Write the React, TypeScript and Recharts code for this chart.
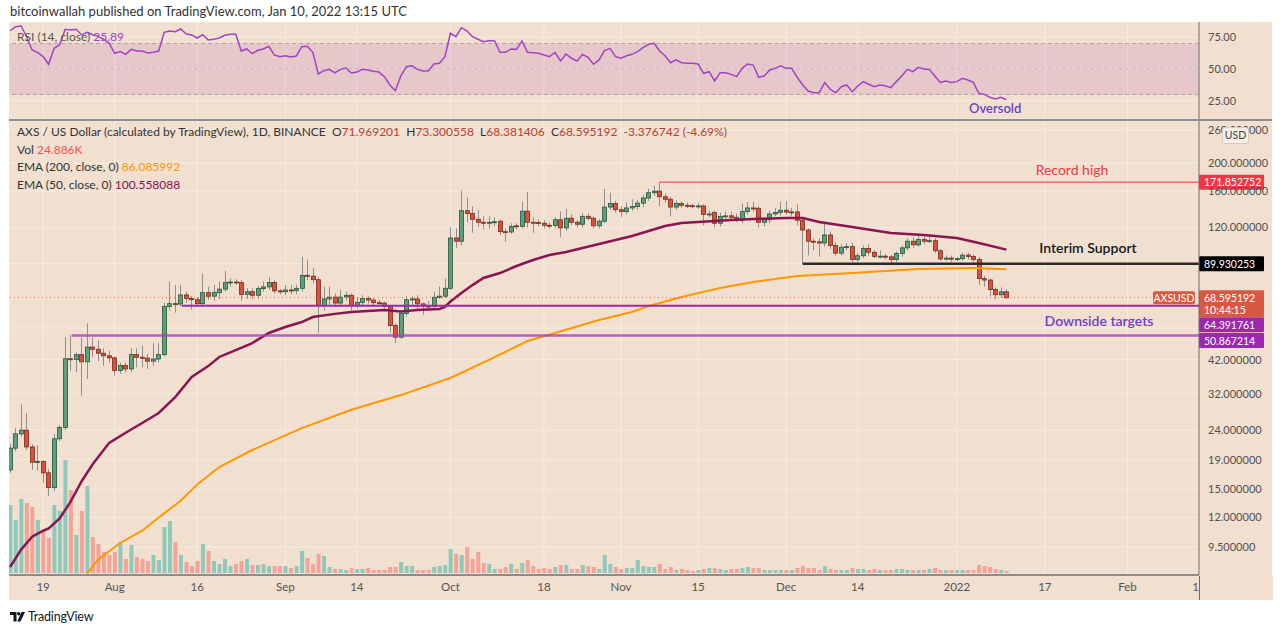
import React from "react";
import {
  ComposedChart,
  LineChart,
  Line,
  Bar,
  XAxis,
  YAxis,
  CartesianGrid,
  ReferenceLine,
  ReferenceArea,
} from "recharts";

// AXS / USD daily candles, 13 Jul 2021 .. 10 Jan 2022. Day numbers count from 19 Jul 2021.
const firstDay = -6;
const axisStart = -6.2;
const axisEnd = 210; // 14 Feb 2022

const opens = [
  17.5, 20.8, 23.3, 24.0, 21.0, 18.6, 18.7, 17.1, 15.2, 22.4,
  24.5, 42.3, 42.0, 43.7, 41.3, 46.4, 45.6, 44.2, 43.3, 42.6,
  38.5, 40.1, 39.0, 43.7, 42.8, 42.5, 41.5, 42.2, 43.7, 64.0,
  65.5, 65.3, 70.2, 68.2, 67.6, 65.5, 71.5, 69.5, 71.5, 73.5,
  77.5, 77.8, 77.4, 70.5, 72.0, 70.0, 73.8, 74.8, 77.5, 72.5,
  72.0, 73.0, 72.7, 74.0, 82.0, 81.5, 79.2, 64.5, 68.0, 69.0,
  65.8, 69.0, 70.0, 64.5, 66.2, 68.2, 67.4, 66.0, 65.8, 64.0,
  55.0, 50.2, 60.6, 67.6, 68.0, 65.4, 64.3, 64.1, 68.9, 69.5,
  74.0, 110.3, 107.5, 137.0, 134.0, 128.0, 125.0, 124.0, 125.0, 126.0,
  116.0, 115.7, 121.5, 121.0, 136.5, 125.0, 124.8, 124.0, 122.0, 121.8,
  127.5, 119.5, 129.0, 125.0, 123.0, 131.0, 129.0, 121.5, 126.0, 141.0,
  145.0, 138.0, 136.0, 140.0, 141.5, 145.5, 151.5, 158.0, 160.0, 153.0,
  150.0, 141.0, 145.0, 143.0, 142.5, 142.0, 142.3, 133.0, 135.0, 124.0,
  131.0, 131.5, 130.0, 127.0, 136.0, 140.0, 139.7, 125.0, 127.5, 133.5,
  135.0, 137.5, 135.5, 135.7, 127.0, 117.5, 107.5, 107.0, 106.0, 113.0,
  104.0, 97.8, 102.5, 103.0, 93.0, 95.8, 101.5, 98.5, 95.3, 95.5,
  95.0, 93.0, 97.5, 102.0, 107.5, 104.5, 109.0, 107.5, 108.0, 99.7,
  93.4, 94.0, 93.3, 93.6, 96.3, 95.3, 93.0, 79.9, 79.0, 73.3,
  70.3, 71.969201,
];

const highs = [
  21.5, 24.4, 29.5, 27.5, 21.5, 21.3, 18.9, 17.6, 23.3, 25.0,
  50.2, 51.0, 44.5, 50.0, 56.0, 50.0, 49.0, 46.0, 45.0, 43.0,
  41.0, 41.0, 46.0, 46.0, 47.0, 44.0, 48.0, 48.0, 66.0, 78.0,
  76.0, 76.0, 72.0, 69.5, 69.0, 83.0, 75.0, 76.0, 78.0, 85.0,
  80.0, 79.5, 79.0, 74.0, 74.0, 75.5, 78.0, 81.0, 79.0, 73.5,
  76.0, 76.0, 76.0, 95.0, 93.0, 87.0, 81.0, 75.0, 75.0, 71.0,
  73.0, 72.0, 71.0, 69.0, 70.0, 69.5, 68.5, 67.5, 66.5, 64.5,
  56.0, 62.0, 69.5, 69.5, 70.0, 66.0, 67.0, 72.0, 75.0, 80.0,
  120.0, 119.0, 161.0, 152.0, 142.0, 138.0, 131.0, 131.0, 130.0, 128.0,
  119.0, 124.0, 124.0, 147.0, 159.0, 130.0, 128.0, 127.0, 125.0, 130.0,
  136.0, 139.0, 133.0, 127.0, 134.0, 134.0, 131.0, 128.0, 163.0, 158.0,
  148.0, 142.0, 146.0, 150.0, 149.0, 155.0, 163.0, 167.0, 171.852752, 157.0,
  153.0, 149.0, 147.0, 146.0, 145.0, 146.0, 144.0, 137.0, 137.0, 135.0,
  136.0, 136.0, 134.0, 145.0, 147.0, 147.0, 142.0, 130.0, 137.0, 140.0,
  147.0, 148.0, 140.0, 144.0, 129.0, 119.0, 110.0, 110.0, 124.0, 116.0,
  107.0, 105.0, 106.0, 106.0, 98.0, 104.0, 105.0, 100.0, 100.0, 97.0,
  96.5, 99.0, 104.0, 110.0, 111.0, 112.0, 112.0, 111.5, 110.0, 101.0,
  95.8, 96.0, 95.0, 98.0, 98.0, 97.0, 95.0, 82.0, 80.0, 74.5,
  74.5, 73.300558,
];

const lows = [
  17.1, 20.3, 22.8, 20.5, 17.5, 17.4, 15.8, 14.2, 14.8, 22.0,
  24.0, 38.5, 38.0, 31.5, 36.0, 42.8, 41.5, 40.0, 41.0, 37.0,
  37.5, 38.0, 38.0, 39.5, 39.5, 39.0, 40.0, 41.0, 43.0, 62.0,
  61.0, 64.0, 66.0, 62.5, 64.0, 64.0, 67.5, 67.0, 68.0, 72.0,
  75.0, 76.0, 67.0, 68.0, 67.8, 68.0, 72.0, 73.0, 71.0, 70.5,
  70.0, 70.5, 70.5, 72.0, 79.0, 77.0, 52.0, 62.0, 65.0, 64.0,
  64.0, 67.0, 62.0, 63.0, 64.5, 65.5, 64.0, 64.5, 63.0, 52.0,
  47.9, 49.5, 59.0, 65.0, 63.0, 60.0, 62.0, 62.5, 68.0, 68.5,
  73.0, 102.0, 104.0, 125.0, 115.0, 120.0, 118.0, 119.0, 121.0, 113.0,
  107.0, 114.0, 118.0, 119.0, 120.0, 115.0, 121.0, 119.0, 119.0, 119.0,
  111.0, 117.0, 122.0, 120.0, 120.0, 127.0, 119.0, 119.0, 124.0, 138.0,
  135.0, 130.0, 133.0, 137.0, 138.0, 141.0, 148.0, 154.0, 142.0, 146.0,
  131.0, 138.0, 140.0, 140.0, 140.0, 139.0, 122.0, 130.0, 120.0, 121.0,
  128.0, 127.0, 125.0, 124.0, 133.0, 136.0, 119.9, 121.0, 124.0, 131.0,
  132.0, 133.0, 131.0, 122.0, 89.930253, 96.0, 100.0, 95.2, 103.0, 101.0,
  96.0, 96.0, 100.0, 91.0, 91.0, 94.0, 96.0, 94.0, 94.0, 93.0,
  90.5, 91.0, 95.0, 100.0, 102.0, 103.0, 105.0, 106.0, 98.0, 92.0,
  92.0, 91.0, 92.0, 92.0, 93.0, 91.0, 76.0, 75.0, 69.4, 67.8,
  68.5, 68.381406,
];

const closes = [
  20.8, 23.3, 24.0, 21.0, 18.6, 18.7, 17.1, 15.2, 22.4, 24.5,
  42.3, 42.0, 43.7, 41.3, 46.4, 45.6, 44.2, 43.3, 42.6, 38.5,
  40.1, 39.0, 43.7, 42.8, 42.5, 41.5, 42.2, 43.7, 64.0, 65.5,
  65.3, 70.2, 68.2, 67.6, 65.5, 71.5, 69.5, 71.5, 73.5, 77.5,
  77.8, 77.4, 70.5, 72.0, 70.0, 73.8, 74.8, 77.5, 72.5, 72.0,
  73.0, 72.7, 74.0, 82.0, 81.5, 79.2, 64.5, 68.0, 69.0, 65.8,
  69.0, 70.0, 64.5, 66.2, 68.2, 67.4, 66.0, 65.8, 64.0, 55.0,
  50.2, 60.6, 67.6, 68.0, 65.4, 64.3, 64.1, 68.9, 69.5, 74.0,
  110.3, 107.5, 137.0, 134.0, 128.0, 125.0, 124.0, 125.0, 125.5, 116.0,
  115.7, 121.0, 121.0, 136.5, 125.0, 124.8, 124.0, 122.0, 121.8, 127.5,
  119.5, 129.0, 125.0, 123.0, 131.0, 129.0, 121.5, 126.0, 141.0, 145.0,
  138.0, 136.0, 140.0, 141.5, 145.5, 151.5, 158.0, 160.0, 153.0, 150.0,
  141.0, 145.0, 143.0, 142.5, 142.0, 142.3, 133.0, 133.5, 124.0, 131.0,
  131.5, 130.0, 127.0, 136.0, 140.0, 139.7, 125.0, 127.5, 133.5, 135.0,
  137.5, 135.5, 135.7, 127.0, 117.5, 107.5, 107.0, 106.0, 113.0, 104.0,
  97.8, 102.5, 103.0, 93.0, 95.8, 101.5, 98.5, 95.3, 95.5, 95.0,
  93.0, 97.5, 102.0, 107.5, 104.5, 109.0, 107.5, 108.0, 99.7, 93.4,
  94.0, 93.3, 93.6, 96.3, 95.3, 93.0, 79.9, 79.0, 73.3, 70.3,
  71.969201, 68.595192,
];

// thousands of AXS
const volumes = [
  816, 636, 888, 840, 792, 636, 504, 420, 816, 744,
  1356, 996, 456, 744, 1044, 432, 348, 252, 216, 252,
  372, 168, 336, 192, 168, 144, 216, 156, 552, 624,
  372, 216, 132, 84, 144, 348, 264, 144, 108, 168,
  84, 108, 144, 168, 96, 96, 108, 84, 84, 84,
  84, 60, 84, 264, 180, 108, 228, 204, 72, 48,
  48, 36, 60, 48, 48, 60, 36, 36, 36, 72,
  72, 132, 84, 84, 36, 36, 36, 72, 84, 96,
  288, 228, 216, 312, 168, 252, 120, 108, 48, 48,
  72, 108, 48, 120, 156, 84, 48, 60, 48, 72,
  96, 96, 48, 48, 96, 84, 72, 48, 216, 108,
  72, 48, 60, 60, 156, 84, 72, 72, 108, 48,
  72, 36, 48, 36, 24, 36, 48, 60, 60, 48,
  36, 48, 48, 60, 72, 60, 60, 36, 36, 36,
  36, 36, 36, 60, 84, 60, 60, 36, 84, 48,
  36, 36, 36, 60, 48, 48, 36, 48, 36, 36,
  36, 48, 48, 36, 36, 36, 36, 48, 60, 36,
  36, 36, 36, 36, 36, 36, 96, 84, 72, 48,
  36, 24.886,
];

const rsi = [
  80.0, 83.2, 83.7, 75.3, 64.9, 63.1, 59.7, 53.7, 66.2, 69.1,
  81.1, 80.6, 81.1, 76.7, 78.8, 76.9, 75.6, 73.3, 70.1, 62.3,
  63.6, 61.5, 65.4, 64.1, 64.1, 62.5, 63.1, 64.1, 78.8, 79.8,
  79.3, 81.4, 77.5, 76.7, 74.3, 76.9, 72.7, 73.3, 74.3, 76.4,
  77.2, 77.2, 64.1, 65.7, 62.0, 64.7, 65.7, 67.8, 61.0, 59.7,
  60.4, 59.4, 60.2, 67.5, 67.8, 63.1, 46.1, 48.7, 49.7, 46.9,
  49.7, 50.8, 46.9, 47.6, 49.7, 49.2, 48.2, 47.6, 44.0, 37.5,
  33.0, 44.7, 51.8, 52.6, 49.7, 48.4, 48.4, 53.9, 54.5, 59.7,
  78.0, 75.3, 82.4, 80.0, 75.3, 73.3, 71.4, 72.2, 72.2, 63.1,
  63.1, 65.7, 65.4, 72.0, 63.1, 62.8, 62.3, 61.0, 59.7, 63.1,
  56.3, 61.8, 58.4, 56.3, 61.5, 59.2, 53.7, 57.1, 64.4, 66.2,
  59.7, 58.4, 60.4, 61.5, 63.6, 66.7, 69.4, 70.1, 64.1, 60.4,
  54.9, 57.1, 54.9, 54.5, 54.5, 53.9, 46.6, 47.9, 40.6, 47.1,
  47.1, 45.8, 44.0, 50.5, 53.9, 53.1, 43.5, 44.5, 49.2, 50.5,
  52.4, 50.5, 50.5, 43.5, 37.5, 32.7, 31.4, 31.4, 39.3, 34.1,
  31.4, 36.1, 37.5, 32.2, 36.7, 40.1, 38.0, 36.1, 37.5, 36.9,
  35.4, 40.1, 44.5, 49.7, 47.9, 51.3, 50.0, 49.7, 44.5, 39.5,
  40.6, 39.5, 40.1, 42.7, 41.4, 39.5, 30.9, 30.1, 27.8, 26.5,
  27.8, 25.89,
];

const ema50Days = [
  -6, -4, -2, 0, 1, 3, 5, 7, 9, 12, 15, 18, 21, 24, 27, 30, 32, 35, 38, 41,
  44, 47, 49, 53, 56, 59, 62, 65, 68, 72, 73, 74, 76, 78, 80, 83, 86, 89, 92, 95,
  98, 101, 104, 107, 110, 113, 116, 119, 122, 125, 129, 135, 138, 141, 147, 154, 160, 166, 170, 175,
];
const ema50Values = [
  8.1, 9.3, 10.3, 10.8, 11.0, 11.9, 13.6, 16.0, 18.3, 21.7, 23.5, 25.4, 27.5, 31.2, 36.6, 39.9, 42.9, 45.3, 47.9, 51.9,
  54.4, 56.6, 58.9, 60.4, 61.3, 61.8, 62.3, 61.5, 62.3, 62.8, 63.8, 66.6, 71.3, 75.9, 80.3, 83.5, 88.3, 92.6, 96.4, 98.7,
  101.9, 105.1, 108.6, 112.1, 116.6, 121.3, 124.2, 125.2, 126.2, 127.2, 128.3, 129.3, 129.3, 125.2, 120.3, 114.7, 113.0, 110.3, 106.0, 100.558088,
];

const ema200Days = [8, 10, 14, 18, 21, 25, 28, 32, 38, 47, 56, 65, 74, 81, 88, 93, 101, 107, 110, 116, 123, 129, 137, 147, 159, 169, 175];
const ema200Values = [
  7.7, 8.6, 9.8, 10.8, 12.0, 13.7, 15.6, 17.9, 20.5, 24.4, 28.2, 31.7, 36.3, 41.9, 48.7, 51.9, 57.5, 61.3, 64.3, 69.1,
  74.2, 77.8, 81.6, 83.5, 86.2, 86.9, 86.085992,
];

const tickDays = [0, 13, 28, 44, 57, 74, 91, 105, 119, 135, 148, 166, 182, 197, 210];
const tickLabels = ["19", "Aug", "16", "Sep", "14", "Oct", "18", "Nov", "15", "Dec", "14", "2022", "17", "Feb", "14"];
const priceTicks = [9.5, 12, 15, 19, 24, 32, 42, 54, 68, 90, 120, 160, 200, 260];
const hiddenPriceTicks = [54, 68, 90];
const rsiTicks = [25, 50, 75];

const recordHigh = 171.852752;
const recordHighDay = 112;
const interimSupport = 89.930253;
const interimSupportDay = 138;
const targetHigh = 64.391761;
const targetHighDay = 25.2;
const targetLow = 50.867214;
const targetLowDay = 5.2;
const countdown = "10:44:15";
const changeText = "-3.376742 (-4.69%)";

const FONT = "Lato, 'Open Sans', Arial, sans-serif";
const BG = "#f1dfcf";
const GRID = "#f6ece4";
const UP = "#5e9e7d";
const UP_EDGE = "#24573c";
const DOWN = "#d6523d";
const DOWN_EDGE = "#7d2a1e";
const VOL_UP = "#8fc9b9";
const VOL_DOWN = "#f3a398";
const RSI_COLOR = "#a044c4";
const PURPLE = "#9c27b0";
const VIOLET = "#6c3fc4";

const rows: any[] = opens.map((o, i) => ({
  t: i + firstDay,
  open: o,
  high: highs[i],
  low: lows[i],
  close: closes[i],
  range: [lows[i], highs[i]],
  vol: volumes[i],
  rsi: rsi[i],
}));
ema50Days.forEach((d, k) => (rows[d - firstDay].ema50 = ema50Values[k]));
ema200Days.forEach((d, k) => (rows[d - firstDay].ema200 = ema200Values[k]));

const last = opens.length - 1;

const Candle = (props: any) => {
  const { x, y, width, height, payload } = props;
  if (!payload || x == null) return <g />;
  const top = Math.min(y, y + height);
  const bottom = Math.max(y, y + height);
  const span = Math.log(payload.high) - Math.log(payload.low) || 1;
  const py = (v: number) => top + ((bottom - top) * (Math.log(payload.high) - Math.log(v))) / span;
  const cx = Math.round(x + width / 2) + 0.5;
  const up = payload.close >= payload.open;
  const bTop = py(Math.max(payload.open, payload.close));
  const bBot = py(Math.min(payload.open, payload.close));
  return (
    <g>
      <line x1={cx} x2={cx} y1={top} y2={bottom} stroke="#8f8f8f" strokeWidth={1} />
      <rect
        x={cx - 2}
        y={bTop}
        width={4}
        height={Math.max(1, bBot - bTop)}
        fill={up ? UP : DOWN}
        stroke={up ? UP_EDGE : DOWN_EDGE}
        strokeWidth={0.8}
      />
    </g>
  );
};

const VolumeBar = (props: any) => {
  const { x, y, width, height, payload } = props;
  if (!payload || x == null) return <g />;
  return <rect x={x} y={y} width={width} height={Math.max(0, height)} fill={payload.close >= payload.open ? VOL_UP : VOL_DOWN} />;
};

const timeTick = (p: any) => (
  <text x={p.x} y={p.y + 16} textAnchor="middle" fontSize={11.5} fill="#555" fontFamily={FONT}>
    {tickLabels[tickDays.indexOf(p.payload.value)]}
  </text>
);

const priceTick = (p: any) =>
  hiddenPriceTicks.includes(p.payload.value) ? (
    <g />
  ) : (
    <text x={p.x + 9} y={p.y + 4} fontSize={11} fill="#505050" fontFamily={FONT}>
      {Number(p.payload.value).toFixed(6)}
    </text>
  );

const rsiTick = (p: any) => (
  <text x={p.x + 9} y={p.y + 4} fontSize={11} fill="#505050" fontFamily={FONT}>
    {Number(p.payload.value).toFixed(2)}
  </text>
);

function tag(viewBox: any, o: any) {
  if (!viewBox) return <g />;
  const x = viewBox.x + viewBox.width;
  const y = viewBox.y;
  const top = y + (o.dy || 0) - 7.5;
  const h = o.sub ? 27 : 15;
  return (
    <g fontFamily={FONT}>
      {o.note && (
        <text x={x + o.noteDx} y={y + o.noteDy} textAnchor="middle" fontSize={14} fill={o.noteColor} fontWeight={o.noteWeight || 400}>
          {o.note}
        </text>
      )}
      {o.symbol && (
        <g>
          <rect x={x - 46} y={y - 6.5} width={42} height={13} fill={o.box} rx={2} />
          <text x={x - 25} y={y + 4} textAnchor="middle" fontSize={10.5} fill="#fff">
            {o.symbol}
          </text>
        </g>
      )}
      <rect x={x} y={top} width={65} height={h} fill={o.box} rx={1} />
      <text x={x + 5} y={top + 11.5} fontSize={10.5} fill="#fff">
        {o.text}
      </text>
      {o.sub && (
        <text x={x + 5} y={top + 24} fontSize={10.5} fill="#fff">
          {o.sub}
        </text>
      )}
    </g>
  );
}

function PriceChart() {
  return (
    <ComposedChart width={1263} height={479} data={rows} margin={{ top: 0, right: 0, bottom: 0, left: 0 }}>
      <CartesianGrid xAxisId="t" yAxisId="p" stroke={GRID} />
      <XAxis
        xAxisId="t"
        type="number"
        dataKey="t"
        domain={[axisStart, axisEnd]}
        ticks={tickDays}
        interval={0}
        allowDataOverflow
        height={25}
        tickSize={0}
        tickMargin={0}
        tickLine={false}
        axisLine={{ stroke: "#8c8c8c", strokeWidth: 2 }}
        tick={timeTick}
      />
      <XAxis xAxisId="tv" type="number" dataKey="t" domain={[axisStart, axisEnd]} allowDataOverflow hide />
      <YAxis
        yAxisId="p"
        orientation="right"
        type="number"
        scale="log"
        domain={[7.6, 279.2]}
        allowDataOverflow
        ticks={priceTicks}
        interval={0}
        width={73}
        tickSize={0}
        tickMargin={0}
        tickLine={false}
        axisLine={{ stroke: "#6b6b6b" }}
        tick={priceTick}
      />
      <YAxis yAxisId="v" hide domain={[-24, 5424]} allowDataOverflow />
      <Bar xAxisId="tv" yAxisId="v" dataKey="vol" barSize={4} shape={<VolumeBar />} isAnimationActive={false} />
      <Line xAxisId="t" yAxisId="p" dataKey="ema200" stroke="#ff9800" strokeWidth={2} dot={false} connectNulls isAnimationActive={false} />
      <Line xAxisId="t" yAxisId="p" dataKey="ema50" stroke="#8a1553" strokeWidth={2.5} dot={false} connectNulls isAnimationActive={false} />
      <Bar xAxisId="t" yAxisId="p" dataKey="range" barSize={5} shape={<Candle />} isAnimationActive={false} />
      <ReferenceLine xAxisId="t" yAxisId="p" y={closes[last]} stroke="#e0604a" strokeDasharray="1 3" />
      <ReferenceLine
        xAxisId="t"
        yAxisId="p"
        segment={[{ x: recordHighDay, y: recordHigh }, { x: axisEnd, y: recordHigh }]}
        stroke="#f23645"
        strokeWidth={1}
      />
      <ReferenceLine
        xAxisId="t"
        yAxisId="p"
        segment={[{ x: interimSupportDay, y: interimSupport }, { x: axisEnd, y: interimSupport }]}
        stroke="#2a2a2a"
        strokeWidth={2.5}
      />
      <ReferenceLine
        xAxisId="t"
        yAxisId="p"
        segment={[{ x: targetHighDay, y: targetHigh }, { x: axisEnd, y: targetHigh }]}
        stroke={PURPLE}
        strokeWidth={2}
      />
      <ReferenceLine
        xAxisId="t"
        yAxisId="p"
        segment={[{ x: targetLowDay, y: targetLow }, { x: axisEnd, y: targetLow }]}
        stroke="#a440c0"
        strokeOpacity={0.8}
        strokeWidth={2.5}
      />
      <ReferenceLine
        xAxisId="t"
        yAxisId="p"
        y={recordHigh}
        stroke="none"
        label={(p: any) =>
          tag(p.viewBox, {
            text: recordHigh.toFixed(6),
            box: "#f23645",
            note: "Record high",
            noteDx: -127,
            noteDy: -7,
            noteColor: "#f23645",
          })
        }
      />
      <ReferenceLine
        xAxisId="t"
        yAxisId="p"
        y={interimSupport}
        stroke="none"
        label={(p: any) =>
          tag(p.viewBox, {
            text: interimSupport.toFixed(6),
            box: "#000000",
            note: "Interim Support",
            noteDx: -111,
            noteDy: -11,
            noteColor: "#131722",
            noteWeight: 600,
          })
        }
      />
      <ReferenceLine
        xAxisId="t"
        yAxisId="p"
        y={targetLow}
        stroke="none"
        label={(p: any) => tag(p.viewBox, { text: targetLow.toFixed(6), box: PURPLE, dy: 5 })}
      />
      <ReferenceLine
        xAxisId="t"
        yAxisId="p"
        y={targetHigh}
        stroke="none"
        label={(p: any) =>
          tag(p.viewBox, {
            text: targetHigh.toFixed(6),
            box: PURPLE,
            dy: 19,
            note: "Downside targets",
            noteDx: -100,
            noteDy: 20,
            noteColor: VIOLET,
            noteWeight: 600,
          })
        }
      />
      <ReferenceLine
        xAxisId="t"
        yAxisId="p"
        y={closes[last]}
        stroke="none"
        label={(p: any) =>
          tag(p.viewBox, { text: closes[last].toFixed(6), sub: countdown, box: "#d95842", symbol: "AXSUSD" })
        }
      />
    </ComposedChart>
  );
}

function RsiChart() {
  return (
    <LineChart width={1263} height={97} data={rows} margin={{ top: 0, right: 0, bottom: 0, left: 0 }}>
      <CartesianGrid stroke={GRID} />
      <XAxis type="number" dataKey="t" domain={[axisStart, axisEnd]} ticks={tickDays} interval={0} allowDataOverflow hide />
      <YAxis
        orientation="right"
        type="number"
        domain={[10.78, 86.86]}
        allowDataOverflow
        ticks={rsiTicks}
        interval={0}
        width={73}
        tickSize={0}
        tickMargin={0}
        tickLine={false}
        axisLine={{ stroke: "#6b6b6b" }}
        tick={rsiTick}
      />
      <ReferenceArea y1={30} y2={70} fill={PURPLE} fillOpacity={0.12} stroke="none" />
      <ReferenceLine y={70} stroke="#9a8f95" strokeOpacity={0.7} strokeDasharray="4 3" />
      <ReferenceLine y={50} stroke="#a99aa5" strokeOpacity={0.5} strokeDasharray="4 3" />
      <ReferenceLine y={30} stroke="#9a8f95" strokeOpacity={0.7} strokeDasharray="4 3" />
      <Line dataKey="rsi" stroke={RSI_COLOR} strokeWidth={1.5} dot={false} isAnimationActive={false} />
    </LineChart>
  );
}

export default function App() {
  const valueColor = "#b5402f";
  return (
    <div style={{ position: "relative", width: 1280, height: 624, background: "#fff", overflow: "hidden", fontFamily: FONT }}>
      <style>{"body{margin:0}"}</style>
      <div style={{ position: "absolute", left: 10, top: 3, fontSize: 13, color: "#333" }}>
        bitcoinwallah published on TradingView.com, Jan 10, 2022 13:15 UTC
      </div>
      <div style={{ position: "absolute", left: 9, top: 22, width: 1263, height: 578, background: BG }} />
      <div style={{ position: "absolute", left: 9, top: 22 }}>
        <RsiChart />
      </div>
      <div style={{ position: "absolute", left: 9, top: 119, width: 1263, height: 2, background: "#8e8e8e" }} />
      <div style={{ position: "absolute", left: 9, top: 121 }}>
        <PriceChart />
      </div>
      <div
        style={{
          position: "absolute",
          left: 1199,
          top: 576,
          width: 73,
          height: 24,
          background: BG,
          borderLeft: "1px solid #6b6b6b",
        }}
      />
      <div style={{ position: "absolute", left: 17, top: 29, fontSize: 12, color: "#555", whiteSpace: "pre" }}>
        RSI (14, close) <span style={{ color: RSI_COLOR }}>{rsi[last].toFixed(2)}</span>
      </div>
      <div style={{ position: "absolute", left: 969, top: 100, fontSize: 13, fontWeight: 600, color: VIOLET }}>Oversold</div>
      <div style={{ position: "absolute", left: 17, top: 123, fontSize: 12, lineHeight: "17.6px", color: "#333", whiteSpace: "pre" }}>
        <div>
          AXS / US Dollar (calculated by TradingView), 1D, BINANCE{"  "}O<span style={{ color: valueColor }}>{opens[last].toFixed(6)}</span>
          {"  "}H<span style={{ color: valueColor }}>{highs[last].toFixed(6)}</span>
          {"  "}L<span style={{ color: valueColor }}>{lows[last].toFixed(6)}</span>
          {"  "}C<span style={{ color: valueColor }}>{closes[last].toFixed(6)}</span>
          {"  "}
          <span style={{ color: valueColor }}>{changeText}</span>
        </div>
        <div>
          Vol <span style={{ color: "#ef5350" }}>{volumes[last].toFixed(3)}K</span>
        </div>
        <div>
          EMA (200, close, 0) <span style={{ color: "#ff9800" }}>{ema200Values[ema200Values.length - 1].toFixed(6)}</span>
        </div>
        <div>
          EMA (50, close, 0) <span style={{ color: "#880e4f" }}>{ema50Values[ema50Values.length - 1].toFixed(6)}</span>
        </div>
      </div>
      <div
        style={{
          position: "absolute",
          left: 1222,
          top: 127,
          width: 25,
          height: 15,
          background: "#f7efe8",
          border: "1px solid #d8ccc2",
          borderRadius: 3,
          fontSize: 10.5,
          color: "#444",
          textAlign: "center",
          lineHeight: "15px",
        }}
      >
        USD
      </div>
      <div style={{ position: "absolute", left: 10, top: 609, display: "flex", alignItems: "center", gap: 3 }}>
        <svg width={15} height={10} viewBox="0 0 15 10">
          <path d="M0 0h6.5v9.5h-3v-6.5h-3.5z" fill="#131722" />
          <circle cx={8.7} cy={1.7} r={1.7} fill="#131722" />
          <path d="M11.5 0h3.5l-4.5 9.5h-3.3z" fill="#131722" />
        </svg>
        <span style={{ fontSize: 12.5, color: "#131722", letterSpacing: -0.2 }}>TradingView</span>
      </div>
    </div>
  );
}
